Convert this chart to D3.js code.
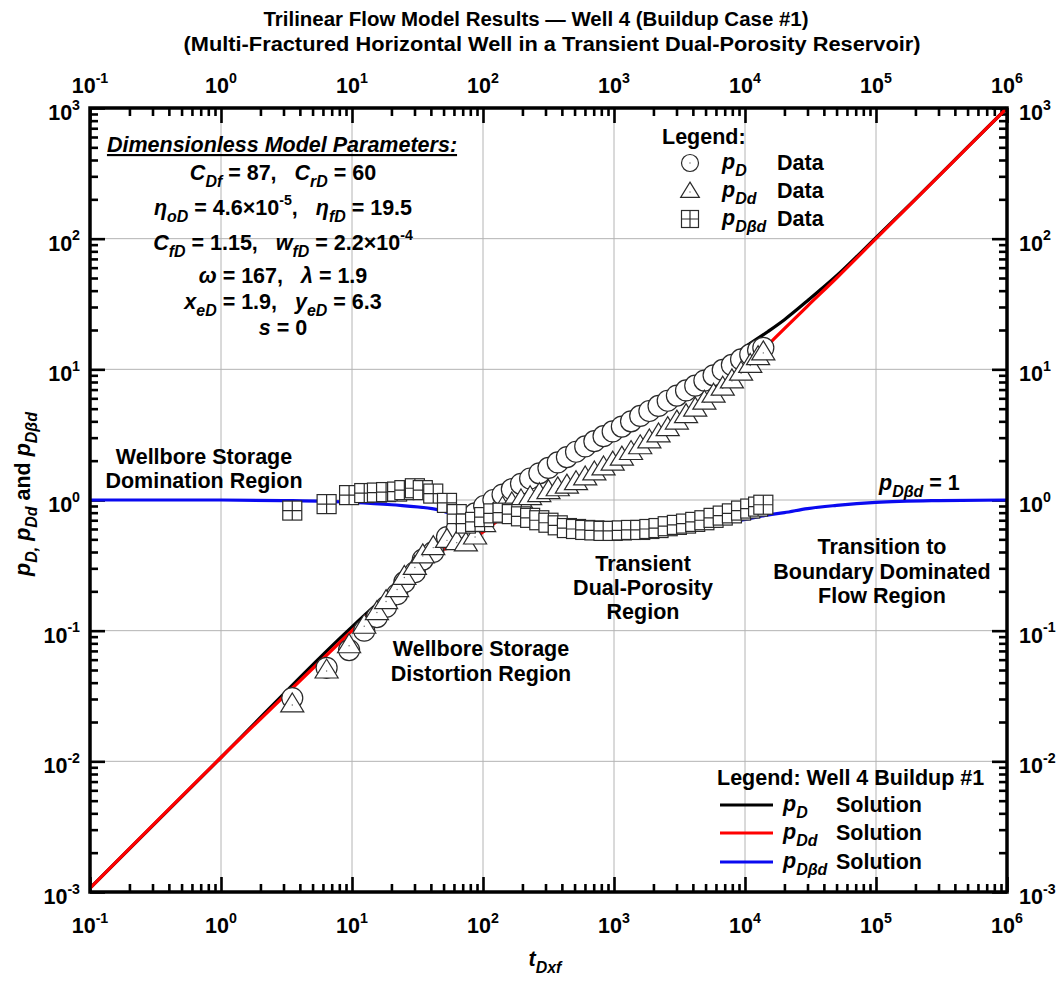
<!DOCTYPE html>
<html>
<head>
<meta charset="utf-8">
<script src="https://cdn.jsdelivr.net/npm/d3@7"></script>
<style>
  body { margin: 0; background: #fff; }
  svg text { font-family: "Liberation Sans", Arial, sans-serif; font-weight: bold; white-space: pre; }
</style>
</head>
<body>
<div id="vis"></div>
<script>
const width = 1063;
const height = 982;

// observed data (buildup case #1)
const tData = [3.5, 6.4, 9.5, 12.4, 15.5, 18.2, 22.1, 25.1, 30.2, 34.7, 41.7, 53.1, 63, 74, 87, 102, 120, 141, 166, 195, 229, 269, 316, 372, 437, 513, 603, 708, 832, 977, 1148, 1349, 1585, 1862, 2188, 2570, 3020, 3548, 4169, 4898, 5754, 6761, 7943, 9333, 10965, 12589, 13800];
const pDData = [0.0305, 0.052, 0.071, 0.100, 0.127, 0.152, 0.19, 0.235, 0.28, 0.35, 0.40, 0.52, 0.60, 0.70, 0.79, 0.90, 1.00, 1.10, 1.21, 1.33, 1.46, 1.60, 1.76, 1.94, 2.13, 2.34, 2.57, 2.82, 3.08, 3.35, 3.65, 4.0, 4.4, 4.8, 5.25, 5.75, 6.3, 6.9, 7.5, 8.2, 9.0, 9.9, 10.8, 11.9, 13.0, 14.0, 14.6];
const pDdData = [0.0275, 0.050, 0.078, 0.11, 0.14, 0.17, 0.21, 0.26, 0.31, 0.38, 0.44, 0.50, 0.48, 0.47, 0.53, 0.66, 0.79, 0.88, 0.95, 1.00, 1.06, 1.12, 1.18, 1.24, 1.30, 1.38, 1.50, 1.64, 1.79, 1.95, 2.13, 2.35, 2.60, 2.88, 3.20, 3.58, 4.02, 4.50, 5.05, 5.70, 6.45, 7.30, 8.30, 9.50, 10.9, 12.5, 13.6];
const pDbdData = [0.83, 0.93, 1.09, 1.13, 1.14, 1.15, 1.16, 1.19, 1.23, 1.19, 1.12, 0.95, 0.78, 0.66, 0.68, 0.74, 0.79, 0.80, 0.78, 0.75, 0.73, 0.70, 0.67, 0.64, 0.61, 0.60, 0.59, 0.585, 0.58, 0.58, 0.585, 0.59, 0.59, 0.60, 0.61, 0.63, 0.645, 0.66, 0.68, 0.70, 0.73, 0.76, 0.79, 0.83, 0.86, 0.89, 0.92];

// model solution
const tSol = [0.1, 1, 10, 20, 30, 50, 70, 100, 150, 200, 300, 500, 1000, 2000, 3000, 5000, 10000, 15000, 20000, 30000, 50000, 100000, 200000, 500000, 1000000];
const pDSol = [0.00107, 0.0107, 0.107, 0.20, 0.28, 0.45, 0.58, 0.78, 1.02, 1.2, 1.5, 2.0, 3.2, 4.9, 6.3, 8.8, 14.8, 19.5, 24, 33.5, 52, 102, 201, 501, 1000];
const pDdSol = [0.00107, 0.0107, 0.100, 0.195, 0.27, 0.42, 0.44, 0.57, 0.77, 0.9, 1.06, 1.27, 1.85, 2.8, 3.7, 5.5, 10.3, 15.4, 20.5, 30.5, 50, 100, 200, 500, 1000];
const tBd = [0.1, 1, 3, 10, 20, 46, 70, 100, 150, 300, 1000, 3000, 10000, 14000, 20000, 30000, 50000, 100000, 300000, 1000000];
const pDbdSol = [1.0, 1.0, 0.99, 0.96, 0.92, 0.84, 0.74, 0.72, 0.75, 0.69, 0.58, 0.62, 0.71, 0.76, 0.80, 0.86, 0.91, 0.96, 0.99, 1.0];

const xExps = [-1, 0, 1, 2, 3, 4, 5, 6];
const yExps = [-3, -2, -1, 0, 1, 2, 3];

const margin = {left: 90, right: 56, top: 108, bottom: 90};
const fs = 21.5;

const svg = d3.select("#vis").append("svg")
	.attr("width", width)
	.attr("height", height);

const x = d3.scaleLog().domain([0.1, 1e6]).range([margin.left, width - margin.right]);
const y = d3.scaleLog().domain([1e-3, 1e3]).range([height - margin.bottom, margin.top]);

const x0 = x.range()[0], x1 = x.range()[1], y0 = y.range()[1], y1 = y.range()[0];

// rich text helper: parts = [text, kind] with kind "", "i", "sub", "sup"
function rich(g, px, py, parts, size, anchor) {
	const t = g.append("text")
		.attr("x", px).attr("y", py)
		.attr("font-size", size)
		.attr("text-anchor", anchor || "middle");
	let shift = 0;
	parts.forEach(([s, k]) => {
		let target = 0, f = size, it = false;
		if (k === "sub") { target = size * 0.32; f = size * 0.74; it = true; }
		if (k === "sup") { target = -size * 0.48; f = size * 0.66; }
		if (k === "i") it = true;
		const sp = t.append("tspan").text(s).attr("font-size", f).attr("dy", target - shift);
		if (it) sp.attr("font-style", "italic");
		shift = target;
	});
	return t;
}

// grid
const majorX = xExps.map(e => Math.pow(10, e));
const majorY = yExps.map(e => Math.pow(10, e));
const minorX = [], minorY = [];
xExps.slice(0, -1).forEach(e => d3.range(2, 10).forEach(m => minorX.push(m * Math.pow(10, e))));
yExps.slice(0, -1).forEach(e => d3.range(2, 10).forEach(m => minorY.push(m * Math.pow(10, e))));

const grid = svg.append("g").attr("stroke", "#b4b4b4").attr("stroke-width", 1);
grid.selectAll("line.gx").data(majorX.slice(1, -1)).enter().append("line")
	.attr("x1", d => x(d)).attr("x2", d => x(d)).attr("y1", y0).attr("y2", y1);
grid.selectAll("line.gy").data(majorY.slice(1, -1)).enter().append("line")
	.attr("y1", d => y(d)).attr("y2", d => y(d)).attr("x1", x0).attr("x2", x1);

// axes (inward ticks on all four sides)
function addAxis(axisFn, scale, vals, size, tr) {
	const g = svg.append("g").attr("transform", tr)
		.call(axisFn(scale).tickValues(vals).tickSize(-size).tickSizeOuter(0).tickFormat(""));
	g.select(".domain").remove();
	g.selectAll(".tick line").attr("stroke", "#000").attr("stroke-width", 2.6);
}
[[majorX, 15], [minorX, 8]].forEach(([v, s]) => {
	addAxis(d3.axisBottom, x, v, s, `translate(0,${y1})`);
	addAxis(d3.axisTop, x, v, s, `translate(0,${y0})`);
});
[[majorY, 15], [minorY, 8]].forEach(([v, s]) => {
	addAxis(d3.axisLeft, y, v, s, `translate(${x0},0)`);
	addAxis(d3.axisRight, y, v, s, `translate(${x1},0)`);
});

// tick labels
const lab = svg.append("g");
xExps.forEach(e => {
	rich(lab, x(Math.pow(10, e)), y1 + 41, [["10", ""], [String(e), "sup"]], fs, "middle");
	rich(lab, x(Math.pow(10, e)), y0 - 15, [["10", ""], [String(e), "sup"]], fs, "middle");
});
yExps.forEach(e => {
	rich(lab, x0 - 10, y(Math.pow(10, e)) + 12, [["10", ""], [String(e), "sup"]], fs, "end");
	rich(lab, x1 + 12, y(Math.pow(10, e)) + 12, [["10", ""], [String(e), "sup"]], fs, "start");
});

// solution lines
const line = d3.line().x(d => x(d[0])).y(d => y(d[1])).curve(d3.curveMonotoneX);
const sols = svg.append("g").attr("fill", "none").attr("stroke-width", 3.2);
sols.append("path").attr("stroke", "#000").attr("d", line(d3.zip(tSol, pDSol)));
sols.append("path").attr("stroke", "#ff0000").attr("d", line(d3.zip(tSol, pDdSol)));
sols.append("path").attr("stroke", "#0a0af0").attr("d", line(d3.zip(tBd, pDbdSol)));

// markers
const mk = {stroke: "#2a2a2a", sw: 1.2};
function circleMark(g, cx, cy, r) {
	g.append("circle").attr("cx", cx).attr("cy", cy).attr("r", r)
		.attr("fill", "#fff").attr("stroke", mk.stroke).attr("stroke-width", mk.sw);
	g.append("circle").attr("cx", cx).attr("cy", cy).attr("r", 0.7).attr("fill", "#666");
}
function triMark(g, cx, cy, r) {
	const h = r * 0.95;
	g.append("path").attr("d", `M${cx},${cy - h * 1.1}L${cx + r * 1.1},${cy + h * 0.8}L${cx - r * 1.1},${cy + h * 0.8}Z`)
		.attr("fill", "#fff").attr("stroke", mk.stroke).attr("stroke-width", mk.sw);
	g.append("circle").attr("cx", cx).attr("cy", cy + 1).attr("r", 0.7).attr("fill", "#666");
}
function sqMark(g, cx, cy, r) {
	g.append("rect").attr("x", cx - r).attr("y", cy - r).attr("width", 2 * r).attr("height", 2 * r)
		.attr("fill", "#fff").attr("stroke", mk.stroke).attr("stroke-width", mk.sw);
	g.append("path").attr("d", `M${cx - r},${cy}H${cx + r}M${cx},${cy - r}V${cy + r}`)
		.attr("stroke", mk.stroke).attr("stroke-width", mk.sw);
}

const pts = svg.append("g");
tData.forEach((t, i) => circleMark(pts, x(t), y(pDData[i]), 10.5));
tData.forEach((t, i) => triMark(pts, x(t), y(pDdData[i]), 10.5));
tData.forEach((t, i) => sqMark(pts, x(t), y(pDbdData[i]), 9.5));

// frame
svg.append("rect").attr("x", x0).attr("y", y0).attr("width", x1 - x0).attr("height", y1 - y0)
	.attr("fill", "none").attr("stroke", "#000").attr("stroke-width", 3.5);

// titles
svg.append("text").attr("x", 536).attr("y", 26).attr("text-anchor", "middle").attr("font-size", 19.5)
	.attr("textLength", 545).attr("lengthAdjust", "spacingAndGlyphs")
	.text("Trilinear Flow Model Results \u2014 Well 4 (Buildup Case #1)");
svg.append("text").attr("x", 552).attr("y", 51).attr("text-anchor", "middle").attr("font-size", 19.5)
	.attr("textLength", 737).attr("lengthAdjust", "spacingAndGlyphs")
	.text("(Multi-Fractured Horizontal Well in a Transient Dual-Porosity Reservoir)");

// axis titles
rich(svg, 545, 966, [["t", "i"], ["Dxf", "sub"]], fs, "middle");
rich(svg.append("g").attr("transform", "translate(30,494) rotate(-90)"), 0, 0,
	[["p", "i"], ["D,", "sub"], [" ", ""], ["p", "i"], ["Dd", "sub"], [" and ", ""], ["p", "i"], ["D\u03b2d", "sub"]], fs, "middle");

// parameter block
const par = svg.append("g");
par.append("text").attr("x", 282).attr("y", 152).attr("text-anchor", "middle").attr("font-size", fs)
	.attr("font-style", "italic").attr("text-decoration", "underline")
	.text("Dimensionless Model Parameters:");
const parLines = [
	[[["C", "i"], ["Df", "sub"], [" = 87,   ", ""], ["C", "i"], ["rD", "sub"], [" = 60", ""]], 180],
	[[["\u03b7", "i"], ["oD", "sub"], [" = 4.6\u00d710", ""], ["-5", "sup"], [",   ", ""], ["\u03b7", "i"], ["fD", "sub"], [" = 19.5", ""]], 215],
	[[["C", "i"], ["fD", "sub"], [" = 1.15,   ", ""], ["w", "i"], ["fD", "sub"], [" = 2.2\u00d710", ""], ["-4", "sup"]], 250],
	[[["\u03c9", "i"], [" = 167,   ", ""], ["\u03bb", "i"], [" = 1.9", ""]], 283],
	[[["x", "i"], ["eD", "sub"], [" = 1.9,   ", ""], ["y", "i"], ["eD", "sub"], [" = 6.3", ""]], 309],
	[[["s", "i"], [" = 0", ""]], 335]
];
parLines.forEach(([p, py]) => rich(par, 283, py, p, fs, "middle"));

// data legend
const leg = svg.append("g");
leg.append("text").attr("x", 662).attr("y", 144).attr("font-size", fs).text("Legend:");
const legRows = [
	[circleMark, [["p", "i"], ["D", "sub"]], 163],
	[triMark, [["p", "i"], ["Dd", "sub"]], 191],
	[sqMark, [["p", "i"], ["D\u03b2d", "sub"]], 219]
];
legRows.forEach(([fn, p, py]) => {
	fn(leg, 690, py, 8.5);
	rich(leg, 722, py + 6, p, fs, "start");
	leg.append("text").attr("x", 777).attr("y", py + 7).attr("font-size", fs).text("Data");
});

// solution legend
const leg2 = svg.append("g");
leg2.append("text").attr("x", 717).attr("y", 785).attr("font-size", fs).text("Legend: Well 4 Buildup #1");
const leg2Rows = [["#000", [["p", "i"], ["D", "sub"]], 805], ["#ff0000", [["p", "i"], ["Dd", "sub"]], 833], ["#0a0af0", [["p", "i"], ["D\u03b2d", "sub"]], 862]];
leg2Rows.forEach(([c, p, py]) => {
	leg2.append("line").attr("x1", 720).attr("x2", 773).attr("y1", py).attr("y2", py)
		.attr("stroke", c).attr("stroke-width", 3.2);
	rich(leg2, 783, py + 6, p, fs, "start");
	leg2.append("text").attr("x", 836).attr("y", py + 7).attr("font-size", fs).text("Solution");
});

// region annotations
const ann = svg.append("g");
const notes = [
	[["Wellbore Storage", "Domination Region"], 204, 464, 24],
	[["Wellbore Storage", "Distortion Region"], 481, 656, 25],
	[["Transient", "Dual-Porosity", "Region"], 643, 571, 24],
	[["Transition to", "Boundary Dominated", "Flow Region"], 882, 554, 24.5]
];
notes.forEach(([lines, nx, ny, dy]) => {
	lines.forEach((s, i) => ann.append("text").attr("x", nx).attr("y", ny + i * dy)
		.attr("text-anchor", "middle").attr("font-size", fs).text(s));
});
rich(ann, 879, 490, [["p", "i"], ["D\u03b2d", "sub"], [" = 1", ""]], fs, "start");
</script>
</body>
</html>
